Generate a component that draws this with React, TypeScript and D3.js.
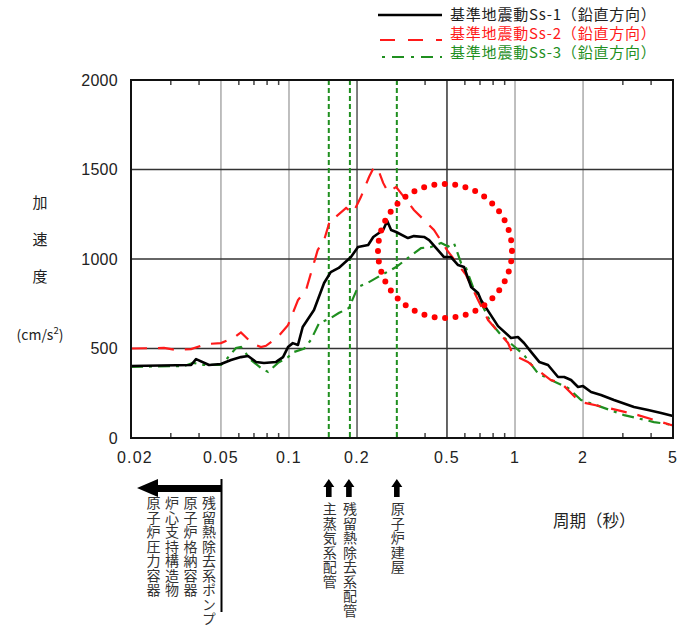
import React from "react";
import * as d3 from "d3";

const W = 678;
const H = 630;

// Ss-1 (black)
const ss1Period = [0.02, 0.0369, 0.0388, 0.0443, 0.05, 0.0554, 0.0613, 0.0659, 0.0715, 0.0775, 0.0877, 0.0941, 0.099, 0.104, 0.1096, 0.115, 0.129, 0.143, 0.153, 0.166, 0.188, 0.202, 0.224, 0.236, 0.261, 0.272, 0.283, 0.298, 0.336, 0.357, 0.396, 0.417, 0.456, 0.485, 0.521, 0.56, 0.595, 0.639, 0.686, 0.707, 0.76, 0.841, 0.96, 1.03, 1.096, 1.18, 1.28, 1.4, 1.55, 1.65, 1.77, 1.9, 2.0, 2.17, 2.4, 2.74, 3.36, 3.88, 4.43, 5.0];
const ss1Accel = [402, 408, 441, 408, 413, 436, 452, 458, 425, 419, 425, 452, 508, 530, 520, 620, 715, 866, 927, 950, 1011, 1067, 1078, 1123, 1162, 1212, 1162, 1151, 1117, 1128, 1123, 1106, 1050, 1011, 1011, 966, 955, 844, 810, 771, 710, 625, 559, 564, 531, 480, 425, 408, 341, 341, 324, 285, 290, 257, 240, 212, 173, 156, 140, 123];

// Ss-2 (red)
const ss2Period = [0.02, 0.028, 0.0316, 0.0369, 0.043, 0.05, 0.0571, 0.0613, 0.0693, 0.0752, 0.0791, 0.0894, 0.099, 0.1096, 0.119, 0.134, 0.143, 0.153, 0.161, 0.179, 0.192, 0.208, 0.226, 0.238, 0.248, 0.261, 0.274, 0.298, 0.323, 0.357, 0.396, 0.438, 0.5, 0.607, 0.686, 0.76, 0.808, 0.931, 0.98, 1.14, 1.26, 1.44, 1.6, 1.9, 1.96, 2.58, 3.5, 4.9, 5.0];
const ss2Accel = [500, 503, 492, 497, 525, 530, 560, 590, 525, 508, 515, 565, 630, 770, 827, 1050, 1106, 1229, 1235, 1285, 1257, 1346, 1458, 1514, 1500, 1425, 1374, 1402, 1346, 1274, 1218, 1162, 1050, 911, 771, 659, 620, 531, 464, 425, 380, 324, 307, 212, 201, 168, 128, 73, 70];

// Ss-3 (green)
const ss3Period = [0.02, 0.0301, 0.0343, 0.0376, 0.042, 0.05, 0.0526, 0.0583, 0.0613, 0.0679, 0.0752, 0.0808, 0.0894, 0.099, 0.105, 0.117, 0.125, 0.136, 0.153, 0.166, 0.184, 0.202, 0.226, 0.248, 0.298, 0.336, 0.384, 0.425, 0.471, 0.506, 0.537, 0.577, 0.607, 0.659, 0.707, 0.76, 0.783, 0.867, 1.096, 1.26, 1.44, 1.72, 1.96, 2.28, 3.04, 4.12, 5.0];
const ss3Accel = [397, 402, 402, 420, 408, 408, 436, 503, 508, 436, 391, 369, 420, 452, 480, 500, 548, 642, 670, 698, 726, 844, 871, 900, 955, 1006, 1061, 1067, 1089, 1070, 1089, 978, 950, 827, 754, 676, 642, 575, 464, 363, 324, 279, 212, 184, 128, 89, 73];

const xTickValues = [0.02, 0.05, 0.1, 0.2, 0.5, 1, 2, 5];
const xTickLabels = ["0.02", "0.05", "0.1", "0.2", "0.5", "1", "2", "5"];
const xMinorTicks = [0.03, 0.04, 0.06, 0.07, 0.08, 0.09, 0.3, 0.4, 0.6, 0.7, 0.8, 0.9, 3, 4];
const yTickValues = [0, 500, 1000, 1500, 2000];
const vGrid = [0.05, 0.1, 0.2, 0.5, 1, 2];
const vGridColor = ["#aaa", "#aaa", "#555", "#333", "#aaa", "#aaa"];
const hGrid = [500, 1000, 1500];

const pipePeriods = [0.15, 0.186, 0.3];
const pipeLabels = ["主蒸気系配管", "残留熱除去系配管", "原子炉建屋"];
const leftLabels = ["残留熱除去系ポンプ", "原子炉格納容器", "炉心支持構造物", "原子炉圧力容器"];
const legendLabels = ["基準地震動Ss-1（鉛直方向）", "基準地震動Ss-2（鉛直方向）", "基準地震動Ss-3（鉛直方向）"];
const circleCenter = { period: 0.49, accel: 1045 };

const JP = "'Noto Sans CJK JP', 'Noto Sans', sans-serif";
const NUM = "'Liberation Sans', Arial, sans-serif";
const GREEN = "#1f8f1f";
const RED = "#ff1a1a";

export default function App() {
  const x = d3.scaleLog().domain([0.02, 5]).range([131, 673]);
  const y = d3.scaleLinear().domain([0, 2000]).range([438, 80]);
  const line = d3
    .line<[number, number]>()
    .x((d) => x(d[0]))
    .y((d) => y(d[1]));
  const mk = (p: number[], a: number[]) => p.map((v, i) => [v, a[i]] as [number, number]);

  const x0 = x.range()[0];
  const x1 = x.range()[1];
  const yTop = y(2000);
  const yBot = y(0);

  const cx = x(circleCenter.period);
  const cy = y(circleCenter.accel);

  return (
    <svg width={W} height={H} style={{ position: "absolute", left: 0, top: 0, background: "#fff" }}>
      <rect width={W} height={H} fill="#fff" />
      {vGrid.map((g, i) => (
        <line key={"vg" + i} x1={x(g)} x2={x(g)} y1={yTop} y2={yBot} stroke={vGridColor[i]} strokeWidth={1.5} />
      ))}
      {hGrid.map((g) => (
        <line key={"hg" + g} x1={x0} x2={x1} y1={y(g)} y2={y(g)} stroke="#333" strokeWidth={1.5} />
      ))}
      {xMinorTicks.map((t) => (
        <g key={"mt" + t}>
          <line x1={x(t)} x2={x(t)} y1={yBot} y2={yBot - 5} stroke="#444" strokeWidth={1.5} />
          <line x1={x(t)} x2={x(t)} y1={yTop} y2={yTop + 5} stroke="#444" strokeWidth={1.5} />
        </g>
      ))}
      {pipePeriods.map((p) => (
        <line key={"pl" + p} x1={x(p)} x2={x(p)} y1={yTop} y2={yBot} stroke={GREEN} strokeWidth={2} strokeDasharray="5 3" />
      ))}
      <path d={line(mk(ss3Period, ss3Accel)) || ""} fill="none" stroke={GREEN} strokeWidth={2.2} strokeDasharray="12 6 3 6" />
      <path d={line(mk(ss2Period, ss2Accel)) || ""} fill="none" stroke={RED} strokeWidth={2.2} strokeDasharray="16 11" />
      <path d={line(mk(ss1Period, ss1Accel)) || ""} fill="none" stroke="#000" strokeWidth={2.6} strokeLinejoin="round" />
      <rect x={x0} y={yTop} width={x1 - x0} height={yBot - yTop} fill="none" stroke="#111" strokeWidth={2} />
      <circle cx={cx} cy={cy} r={67} fill="none" stroke="#ff0000" strokeWidth={6} strokeLinecap="round" strokeDasharray="0 10.5" />
      {yTickValues.map((v) => (
        <text key={"yt" + v} x={118} y={y(v) + 5.5} textAnchor="end" fontFamily={NUM} fontSize={16} letterSpacing={0.3} fill="#222">
          {v}
        </text>
      ))}
      {xTickValues.map((v, i) => (
        <text
          key={"xt" + v}
          x={i === 0 ? x(v) + 4 : x(v)}
          y={463}
          textAnchor="middle"
          fontFamily={NUM}
          fontSize={16}
          letterSpacing={1.2}
          fill="#222"
        >
          {xTickLabels[i]}
        </text>
      ))}
      {["加", "速", "度"].map((c, i) => (
        <text key={"yc" + i} x={40} y={208 + i * 37} textAnchor="middle" fontFamily={JP} fontSize={15} fill="#222">
          {c}
        </text>
      ))}
      <text x={40} y={340} textAnchor="middle" fontFamily={JP} fontSize={14} fill="#222">
        (cm/s<tspan fontSize={9.5} dy={-6}>2</tspan><tspan dy={6}>)</tspan>
      </text>
      <text x={553} y={527} fontFamily={JP} fontSize={16.5} fill="#222">
        周期（秒）
      </text>
      <line x1={378} x2={442} y1={15} y2={15} stroke="#000" strokeWidth={2.6} />
      <line x1={380} x2={442} y1={40} y2={40} stroke={RED} strokeWidth={2.2} strokeDasharray="15 13" />
      <line x1={382} x2={442} y1={57} y2={57} stroke={GREEN} strokeWidth={2.2} strokeDasharray="3 7 12 7" />
      {legendLabels.map((t, i) => (
        <text
          key={"lg" + i}
          x={450}
          y={20 + i * 19}
          fontFamily={JP}
          fontSize={15}
          letterSpacing={0.8}
          fill={i === 0 ? "#222" : i === 1 ? RED : GREEN}
        >
          {t}
        </text>
      ))}
      <path d="M137,488 L158,479 L158,485 L221,485 L221,492 L158,492 L158,497 Z" fill="#000" />
      <line x1={221.5} x2={221.5} y1={479} y2={612} stroke="#000" strokeWidth={2} />
      {leftLabels.map((t, i) => (
        <text
          key={"ll" + i}
          x={209 - i * 18.5}
          y={496}
          fontFamily={JP}
          fontSize={14}
          letterSpacing={0.5}
          fill="#333"
          style={{ writingMode: "vertical-rl" } as any}
        >
          {t}
        </text>
      ))}
      {pipePeriods.map((p, i) => {
        const ax = x(p) + (i === 1 ? -1 : 0);
        return (
          <g key={"ua" + i}>
            <path
              d={`M${ax},479 L${ax + 5.5},487 L${ax + 2.8},487 L${ax + 2.8},497 L${ax - 2.8},497 L${ax - 2.8},487 L${ax - 5.5},487 Z`}
              fill="#000"
            />
            <text
              x={ax + 1}
              y={502}
              fontFamily={JP}
              fontSize={14}
              letterSpacing={0.5}
              fill="#333"
              style={{ writingMode: "vertical-rl" } as any}
            >
              {pipeLabels[i]}
            </text>
          </g>
        );
      })}
    </svg>
  );
}
